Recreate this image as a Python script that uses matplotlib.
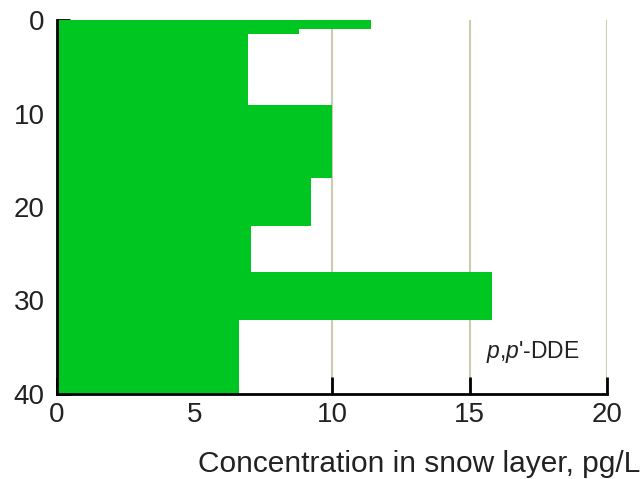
import numpy as np
import matplotlib
matplotlib.use("Agg")
import matplotlib.pyplot as plt

# Depth profile of p,p'-DDE in the snow layer
depth_top = [0.0, 1.0, 1.5, 9.1, 16.9, 22.0, 27.0, 32.1]
depth_bottom = [1.0, 1.5, 9.1, 16.9, 22.0, 27.0, 32.1, 40.0]
conc = [11.4, 8.8, 6.95, 10.0, 9.25, 7.05, 15.8, 6.6]

x_ticks = [0, 5, 10, 15, 20]
y_ticks = [0, 10, 20, 30, 40]

plt.rcParams['font.family'] = ['Liberation Sans', 'DejaVu Sans']
plt.rcParams['mathtext.fontset'] = 'custom'
plt.rcParams['mathtext.it'] = 'Liberation Sans:italic'
plt.rcParams['mathtext.rm'] = 'Liberation Sans'
txt_col = '#222222'

fig = plt.figure(figsize=(6.43, 4.79), dpi=100)
ax = fig.add_axes([57/643, 1-394/479, 550/643, 374/479])

thick = np.array(depth_bottom) - np.array(depth_top)
ax.barh(depth_top, conc, height=thick, align='edge', color='#00c622',
        edgecolor='none', zorder=2)

ax.set_xlim(0, 20)
ax.set_ylim(40, 0)
ax.set_xticks(x_ticks)
ax.set_yticks(y_ticks)
ax.grid(True, axis='x', color='#cdc9b3', linewidth=1.5, zorder=0)
ax.set_axisbelow(True)

for s in ['top', 'right']:
    ax.spines[s].set_visible(False)
for s in ['left', 'bottom']:
    ax.spines[s].set_linewidth(2)
    ax.spines[s].set_zorder(3)

ax.tick_params(axis='x', direction='in', length=12, width=2, labelsize=20,
               pad=6, labelcolor=txt_col)
ax.tick_params(axis='y', direction='in', length=9, width=2, labelsize=20,
               pad=9, labelcolor=txt_col)

ax.set_xlabel('Concentration in snow layer, pg/L', fontsize=21.5,
              ha='right', va='baseline', color=txt_col)
ax.xaxis.set_label_coords((640-57)/550, -(472-394)/374)

ax.text(15.6, 36.1, r"$\mathit{p{,}p}$'-DDE", fontsize=16.5, va='baseline',
        ha='left', color=txt_col)

fig.savefig('out.png', dpi=100)
